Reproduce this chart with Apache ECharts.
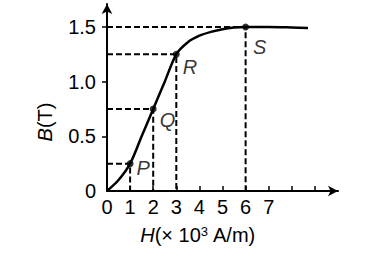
<!DOCTYPE html>
<html><head><meta charset="utf-8">
<script src="https://cdn.jsdelivr.net/npm/echarts@6/dist/echarts.min.js"></script>
<style>html,body{margin:0;padding:0;background:#fff}#c{width:375px;height:258px}</style>
</head><body><div id="c"></div>
<script>
// Curve B(H)
const curveH = [0, 0.5, 1, 1.5, 2, 2.5, 3, 3.5, 4, 4.5, 5, 5.5, 6, 7, 8, 8.7];
const curveB = [0, 0.1, 0.25, 0.5, 0.75, 1.0, 1.25, 1.36, 1.42, 1.455, 1.48, 1.495, 1.5, 1.5, 1.495, 1.49];
// Marked points
const pointNames = ['P', 'Q', 'R', 'S'];
const pointH = [1, 2, 3, 6];
const pointB = [0.25, 0.75, 1.25, 1.5];
// Tick labels
const xTickLabels = [0, 1, 2, 3, 4, 5, 6, 7];
const xTicks = [1, 2, 3, 4, 5, 6, 7, 8, 9];
const yTickLabels = [0, 0.5, 1.0, 1.5];
const yTicks = [0.5, 1.0, 1.5];
const xName = 'H';
const xNameRest = '(× 10';
const xNameSup = '3';
const xNameEnd = ' A/m)';
const yName = 'B';
const yNameRest = '(T)';

const FONT = "'Liberation Sans', Arial, sans-serif";
const FS = 20;
const labelOffsets = [[-1, 4], [-1, 11], [-1, 13], [0, 20]];

const chart = echarts.init(document.getElementById('c'), null, {renderer: 'svg'});
const dashSeries = pointH.map((h, i) => ({
  type: 'line', silent: true, symbol: 'none', z: 1,
  lineStyle: {color: '#000', width: 2, type: [6, 3]},
  data: [[0, pointB[i]], [h, pointB[i]], [h, 0]]
}));
chart.setOption({
  animation: false,
  grid: {left: 107, right: 37, top: 4, bottom: 67},
  xAxis: {
    type: 'value', min: 0, max: 10,
    axisLine: {show: true, symbol: ['none', 'arrow'], symbolSize: [8, 10],
      lineStyle: {color: '#000', width: 2}},
    axisTick: {show: true, inside: true, length: 5, customValues: xTicks,
      lineStyle: {color: '#000', width: 1.5}},
    axisLabel: {customValues: xTickLabels, color: '#000', fontSize: FS,
      fontFamily: FONT, margin: 6},
    splitLine: {show: false}
  },
  yAxis: {
    type: 'value', min: 0, max: 1.71,
    axisLine: {show: true, symbol: ['none', 'arrow'], symbolSize: [8, 10],
      lineStyle: {color: '#000', width: 2}},
    axisTick: {show: true, inside: false, length: 5, customValues: yTicks,
      lineStyle: {color: '#000', width: 1.5}},
    axisLabel: {customValues: yTickLabels, color: '#000', fontSize: FS,
      fontFamily: FONT, margin: 11,
      formatter: v => v === 0 ? '0' : v.toFixed(1)},
    splitLine: {show: false}
  },
  graphic: [
    {type: 'text', x: 198, y: 235, z: 10,
      style: {text: '{i|' + xName + '}' + xNameRest + '{s|' + xNameSup + '}' + xNameEnd, fill: '#000',
        font: FS + 'px ' + FONT, align: 'center', verticalAlign: 'middle',
        rich: {i: {fontStyle: 'italic', fontSize: FS, fontFamily: FONT, fill: '#000'},
               s: {fontSize: 13, fontFamily: FONT, fill: '#000', verticalAlign: 'top', padding: [0, 0, 8, 0]}}}},
    {type: 'text', x: 45, y: 122, rotation: Math.PI / 2, z: 10,
      style: {text: '{i|' + yName + '}' + yNameRest, fill: '#000',
        font: FS + 'px ' + FONT, align: 'center', verticalAlign: 'middle',
        rich: {i: {fontStyle: 'italic', fontSize: FS, fontFamily: FONT, fill: '#000'}}}}
  ],
  series: [
    ...dashSeries,
    {
      type: 'line', smooth: 0.3, symbol: 'none', z: 3,
      lineStyle: {color: '#000', width: 2.5},
      data: curveH.map((h, i) => [h, curveB[i]])
    },
    {
      type: 'scatter', symbol: 'circle', symbolSize: 7, z: 4,
      itemStyle: {color: '#000'},
      data: pointH.map((h, i) => ({
        value: [h, pointB[i]], name: pointNames[i],
        label: {show: true, position: 'right', distance: 4, offset: labelOffsets[i],
          formatter: '{b}', color: '#000', fontSize: FS, fontStyle: 'italic', fontFamily: FONT}
      }))
    }
  ]
});
</script></body></html>
